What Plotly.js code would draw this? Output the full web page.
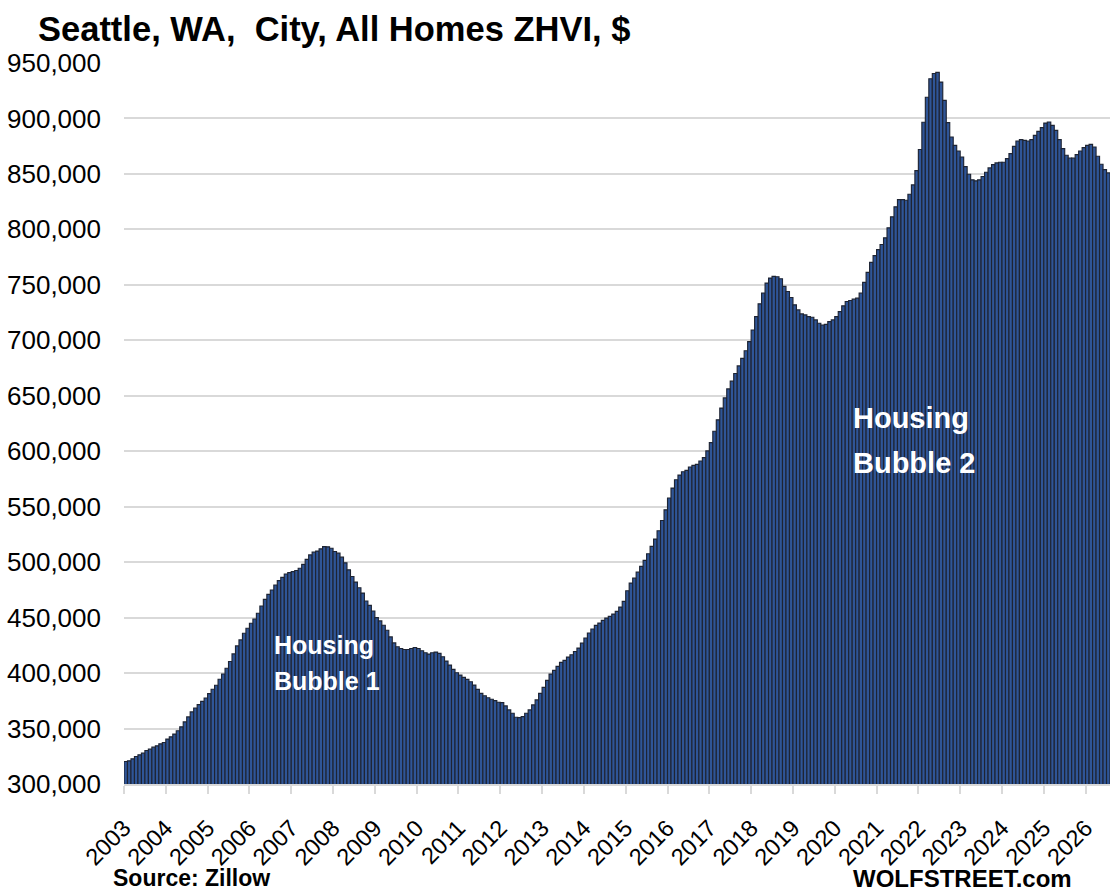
<!DOCTYPE html>
<html>
<head>
<meta charset="utf-8">
<script src="https://cdn.plot.ly/plotly-3.0.1.min.js"></script>
<style>
  html, body { margin: 0; padding: 0; background: #ffffff; }
  #chart { width: 1114px; height: 892px; }
</style>
</head>
<body>
<div id="chart"></div>
<script>
// Monthly ZHVI values ($), Seattle WA, City, All Homes — one array per year
const y2003 = [320300, 320900, 322700, 324800, 326300, 327800, 330200, 331400, 333200, 334400, 336200, 337400];
const y2004 = [340500, 342500, 345000, 348000, 351500, 356000, 360500, 365000, 368500, 371500, 374500, 377500];
const y2005 = [381500, 385400, 389000, 394400, 399200, 404400, 410400, 417300, 424500, 429900, 435900, 440400];
const y2006 = [444900, 448800, 453900, 460500, 466500, 471000, 474900, 479400, 483300, 486300, 489300, 490500];
const y2007 = [491400, 492500, 494500, 498000, 502500, 506500, 509000, 510000, 512000, 514000, 513800, 512500];
const y2008 = [509600, 508100, 504500, 499400, 493100, 487100, 482000, 476900, 472100, 465000, 461100, 456000];
const y2009 = [450000, 447000, 443100, 438600, 432600, 427200, 423700, 422200, 421300, 421300, 422200, 423100];
const y2010 = [422200, 420100, 418300, 417100, 418300, 418900, 417700, 414700, 410800, 407200, 403300, 400300];
const y2011 = [398200, 396100, 394300, 392200, 389200, 385300, 381700, 379600, 377800, 376400, 375200, 373700];
const y2012 = [373400, 370400, 366800, 363800, 360200, 359900, 360800, 363800, 366800, 371300, 375800, 381700];
const y2013 = [387100, 393400, 399100, 402400, 406000, 409600, 411400, 414400, 416500, 419500, 422500, 427000];
const y2014 = [431600, 436100, 439700, 443000, 445100, 447500, 449600, 451100, 453200, 455600, 459500, 464600];
const y2015 = [474200, 481100, 485600, 491000, 496200, 501600, 507600, 514200, 520800, 528300, 537600, 547200];
const y2016 = [557800, 566800, 574300, 578500, 581500, 582700, 585800, 587300, 588200, 591200, 594200, 600300];
const y2017 = [607700, 618000, 628300, 638900, 648100, 656200, 663200, 670100, 676900, 683700, 690600, 698800];
const y2018 = [709300, 721400, 732900, 742500, 751600, 756100, 757600, 757300, 755500, 748600, 744000, 738600];
const y2019 = [732000, 727400, 723800, 722900, 721400, 720800, 718400, 715400, 713800, 714400, 716900, 718400];
const y2020 = [721400, 725900, 731100, 735000, 735900, 737100, 738000, 742500, 752200, 761300, 770300, 776400];
const y2021 = [781800, 786400, 792400, 801400, 811300, 820300, 826900, 826900, 826300, 831700, 840100, 853000];
const y2022 = [872000, 896600, 919100, 935800, 940500, 941500, 932800, 916300, 896200, 883300, 875800, 870700];
const y2023 = [865300, 856600, 849700, 844700, 843800, 844700, 847700, 851500, 855400, 858400, 859900, 860500];
const y2024 = [860500, 863800, 868300, 874900, 879700, 880900, 880300, 879700, 880900, 884800, 888400, 891700];
const y2025 = [895800, 896800, 893800, 889300, 880900, 872800, 866800, 864400, 864400, 867400, 870700, 873700];
const y2026 = [875800, 876700, 874300, 865900, 858700, 853900, 850900];

const yearLabels = ['2003','2004','2005','2006','2007','2008','2009','2010','2011','2012','2013','2014',
                    '2015','2016','2017','2018','2019','2020','2021','2022','2023','2024','2025','2026'];

const yearlyValues = [y2003, y2004, y2005, y2006, y2007, y2008, y2009, y2010, y2011, y2012, y2013, y2014,
                      y2015, y2016, y2017, y2018, y2019, y2020, y2021, y2022, y2023, y2024, y2025, y2026];

// Build the monthly series: bar k occupies [k, k+1] on the axis
const values = [].concat(...yearlyValues);
const xPos = values.map((v, k) => k + 0.5);
const tickPos = yearLabels.map((lab, j) => j * 12);

const FONT = 'Liberation Sans, Arial, sans-serif';

const trace = {
  type: 'bar',
  x: xPos,
  y: values,
  width: 1,
  marker: { color: '#2F5597', line: { color: '#1E2433', width: 1.15 } },
  hoverinfo: 'skip'
};

const layout = {
  width: 1114,
  height: 892,
  paper_bgcolor: '#ffffff',
  plot_bgcolor: '#ffffff',
  margin: { l: 124, r: 4, t: 63, b: 108 },
  showlegend: false,
  bargap: 0,
  title: {
    text: '<b>Seattle, WA,  City, All Homes ZHVI, $</b>',
    font: { family: FONT, size: 34.5, color: '#000000' },
    x: 38 / 1114, xref: 'container', xanchor: 'left',
    y: 1 - 29 / 892, yref: 'container', yanchor: 'middle'
  },
  xaxis: {
    range: [0, values.length],
    tickmode: 'array',
    tickvals: tickPos,
    ticktext: yearLabels,
    tickangle: -45,
    ticks: 'outside',
    ticklen: 8,
    tickwidth: 2,
    tickcolor: '#d9d9d9',
    showline: true,
    linecolor: '#d9d9d9',
    linewidth: 2,
    showgrid: false,
    zeroline: false,
    ticklabelstandoff: 11,
    tickfont: { family: FONT, size: 23.5, color: '#000000' }
  },
  yaxis: {
    range: [300000, 950000],
    dtick: 50000,
    tick0: 300000,
    tickformat: ',d',
    showgrid: true,
    gridcolor: '#d9d9d9',
    gridwidth: 2,
    zeroline: false,
    showline: false,
    ticks: '',
    ticklabelstandoff: 22,
    tickfont: { family: FONT, size: 26, color: '#000000' }
  },
  annotations: [
    { text: '<b>Housing</b>', xref: 'paper', yref: 'paper', x: (272 - 124) / 986, y: (784 - 645) / 721,
      xanchor: 'left', yanchor: 'middle', showarrow: false,
      font: { family: FONT, size: 25, color: '#ffffff' } },
    { text: '<b>Bubble 1</b>', xref: 'paper', yref: 'paper', x: (272 - 124) / 986, y: (784 - 681) / 721,
      xanchor: 'left', yanchor: 'middle', showarrow: false,
      font: { family: FONT, size: 25, color: '#ffffff' } },
    { text: '<b>Housing</b>', xref: 'paper', yref: 'paper', x: (851 - 124) / 986, y: (784 - 418) / 721,
      xanchor: 'left', yanchor: 'middle', showarrow: false,
      font: { family: FONT, size: 29, color: '#ffffff' } },
    { text: '<b>Bubble 2</b>', xref: 'paper', yref: 'paper', x: (851 - 124) / 986, y: (784 - 463) / 721,
      xanchor: 'left', yanchor: 'middle', showarrow: false,
      font: { family: FONT, size: 29, color: '#ffffff' } },
    { text: '<b>Source: Zillow</b>', xref: 'paper', yref: 'paper', x: (111 - 124) / 986, y: (784 - 878) / 721,
      xanchor: 'left', yanchor: 'middle', showarrow: false,
      font: { family: FONT, size: 23, color: '#000000' } },
    { text: '<b>WOLFSTREET.com</b>', xref: 'paper', yref: 'paper', x: (851 - 124) / 986, y: (784 - 878) / 721,
      xanchor: 'left', yanchor: 'middle', showarrow: false,
      font: { family: FONT, size: 24, color: '#000000' } }
  ]
};

Plotly.newPlot('chart', [trace], layout, { staticPlot: true, displayModeBar: false });
</script>
</body>
</html>
